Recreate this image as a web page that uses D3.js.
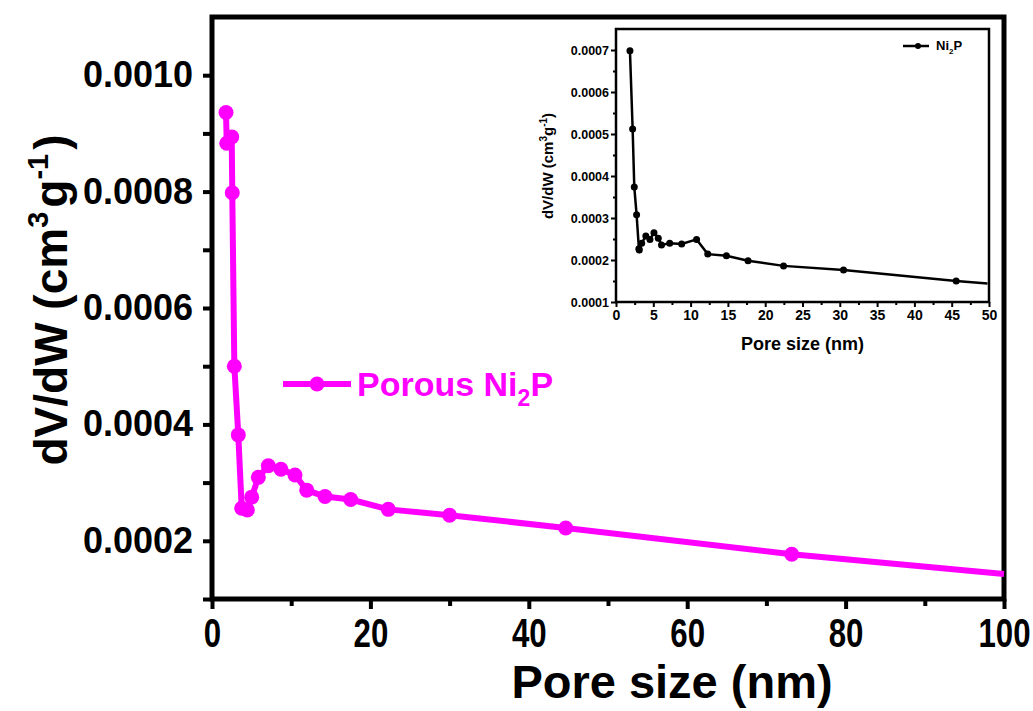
<!DOCTYPE html>
<html>
<head>
<meta charset="utf-8">
<script src="https://cdn.jsdelivr.net/npm/d3@7"></script>
<style>
  body { margin: 0; background: #fff; }
  svg text { font-family: "Liberation Sans", Arial, sans-serif; font-weight: bold; }
</style>
</head>
<body>
<svg width="1033" height="711"></svg>
<script>
// main curve: porous Ni2P
const mainPore = [1.77, 1.86, 2.49, 2.56, 2.82, 3.32, 3.75, 4.46, 5.01, 5.85, 7.11, 8.71, 10.48, 11.96, 14.27, 17.51, 22.26, 30.0, 44.66, 73.2, 100];
const mainDv = [0.000936, 0.000883, 0.000894, 0.000798, 0.0005, 0.000382, 0.000256, 0.000253, 0.000275, 0.000309, 0.000329, 0.000323, 0.000313, 0.000287, 0.000276, 0.000271, 0.000254, 0.000244, 0.000222, 0.000177, 0.000143];
// inset curve: Ni2P
const insetPore = [1.87, 2.23, 2.45, 2.76, 3.07, 3.12, 3.44, 4.0, 4.55, 5.09, 5.67, 6.1, 7.2, 8.8, 10.8, 12.3, 14.8, 17.7, 22.46, 30.5, 45.6, 49.8];
const insetDv = [0.000698, 0.000512, 0.000374, 0.000308, 0.000227, 0.000224, 0.00024, 0.000257, 0.000249, 0.000265, 0.000252, 0.000236, 0.00024, 0.000238, 0.000249, 0.000214, 0.00021, 0.000198, 0.000186, 0.000176, 0.00015, 0.000144];

const mainXTicks = [0, 20, 40, 60, 80, 100];
const mainYTicks = [0.0002, 0.0004, 0.0006, 0.0008, 0.0010];
const insetXTicks = [0, 5, 10, 15, 20, 25, 30, 35, 40, 45, 50];
const insetYTicks = [0.0001, 0.0002, 0.0003, 0.0004, 0.0005, 0.0006, 0.0007];

const svg = d3.select("svg");
const pink = "#ff00ff";

// ---------- main plot ----------
const m = {left: 212, right: 1004, top: 17, bottom: 599};
const x = d3.scaleLinear().domain([0, 100]).range([m.left, m.right]);
const y = d3.scaleLinear().domain([0.0001, 0.0011]).range([m.bottom, m.top]);

const main = svg.append("g");

// minor ticks
main.append("g")
    .attr("transform", `translate(0,${m.bottom})`)
    .call(d3.axisBottom(x).tickValues([10, 30, 50, 70, 90]).tickSize(7).tickFormat(""))
    .call(g => g.select(".domain").remove())
    .call(g => g.selectAll("line").attr("stroke-width", 4));
main.append("g")
    .attr("transform", `translate(${m.left},0)`)
    .call(d3.axisLeft(y).tickValues([0.0001, 0.0003, 0.0005, 0.0007, 0.0009]).tickSize(9).tickFormat(""))
    .call(g => g.select(".domain").remove())
    .call(g => g.selectAll("line").attr("stroke-width", 4));

const xAxis = main.append("g")
    .attr("transform", `translate(0,${m.bottom})`)
    .call(d3.axisBottom(x).tickValues(mainXTicks).tickSize(10).tickPadding(8).tickSizeOuter(0));
xAxis.selectAll("text")
    .attr("font-size", 40).attr("fill", "#000").attr("dy", "0.74em")
    .attr("transform", "scale(0.78,1)");

const yAxis = main.append("g")
    .attr("transform", `translate(${m.left},0)`)
    .call(d3.axisLeft(y).tickValues(mainYTicks).tickSize(9).tickPadding(10).tickSizeOuter(0)
      .tickFormat(d3.format(".4f")));
yAxis.selectAll("text").attr("font-size", 36).attr("fill", "#000");

[xAxis, yAxis].forEach(g => {
  g.select(".domain").remove();
  g.selectAll("line").attr("stroke-width", 4).attr("stroke", "#000");
});

// frame
main.append("rect")
    .attr("x", m.left).attr("y", m.top)
    .attr("width", m.right - m.left).attr("height", m.bottom - m.top)
    .attr("fill", "none").attr("stroke", "#000").attr("stroke-width", 5);

const mainPts = mainPore.map((p, i) => [p, mainDv[i]]);
const line = d3.line().x(d => x(d[0])).y(d => y(d[1]));

main.append("path")
    .datum(mainPts)
    .attr("d", line)
    .attr("fill", "none")
    .attr("stroke", pink)
    .attr("stroke-width", 6)
    .attr("stroke-linejoin", "round");

main.append("g").selectAll("circle")
    .data(mainPts.slice(0, -1))
    .join("circle")
    .attr("cx", d => x(d[0]))
    .attr("cy", d => y(d[1]))
    .attr("r", 7.5)
    .attr("fill", pink);

// legend
const lg = main.append("g").attr("transform", "translate(283,384)");
lg.append("line").attr("x1", 0).attr("x2", 68).attr("stroke", pink).attr("stroke-width", 6);
lg.append("circle").attr("cx", 34).attr("r", 7.5).attr("fill", pink);
const lt = lg.append("text").attr("x", 74).attr("y", 12).attr("font-size", 34).attr("fill", pink);
lt.append("tspan").text("Porous Ni");
lt.append("tspan").text("2").attr("font-size", 23).attr("dy", 10);
lt.append("tspan").text("P").attr("dy", -10);

// axis titles
svg.append("text")
    .attr("x", 672).attr("y", 698)
    .attr("text-anchor", "middle").attr("font-size", 47)
    .text("Pore size (nm)");

const yt = svg.append("text")
    .attr("transform", "translate(67,300) rotate(-90)")
    .attr("text-anchor", "middle").attr("font-size", 46);
yt.append("tspan").text("dV/dW (cm");
yt.append("tspan").text("3").attr("font-size", 29).attr("dy", -19);
yt.append("tspan").text("g").attr("dy", 19).attr("dx", 4);
yt.append("tspan").text("-1").attr("font-size", 29).attr("dy", -19);
yt.append("tspan").text(")").attr("dy", 19).attr("dx", 4);

// ---------- inset ----------
const n = {left: 616, right: 989, top: 29, bottom: 302};
const ix = d3.scaleLinear().domain([0, 50]).range([n.left, n.right]);
const iy = d3.scaleLinear().domain([0.0001, 0.00075]).range([n.bottom, n.top]);
const inset = svg.append("g");

inset.append("g")
    .attr("transform", `translate(0,${n.bottom})`)
    .call(d3.axisBottom(ix).tickValues(d3.range(2.5, 50, 5)).tickSize(3).tickFormat(""))
    .call(g => g.select(".domain").remove())
    .call(g => g.selectAll("line").attr("stroke-width", 2));
inset.append("g")
    .attr("transform", `translate(${n.left},0)`)
    .call(d3.axisLeft(iy).tickValues(d3.range(0.00015, 0.00075, 0.0001)).tickSize(3).tickFormat(""))
    .call(g => g.select(".domain").remove())
    .call(g => g.selectAll("line").attr("stroke-width", 2));

const ixAxis = inset.append("g")
    .attr("transform", `translate(0,${n.bottom})`)
    .call(d3.axisBottom(ix).tickValues(insetXTicks).tickSize(5).tickPadding(3).tickSizeOuter(0));
ixAxis.selectAll("text").attr("font-size", 14).attr("fill", "#000");
const iyAxis = inset.append("g")
    .attr("transform", `translate(${n.left},0)`)
    .call(d3.axisLeft(iy).tickValues(insetYTicks).tickSize(5).tickPadding(2).tickSizeOuter(0)
      .tickFormat(d3.format(".4f")));
iyAxis.selectAll("text").attr("font-size", 12.5).attr("fill", "#000");
[ixAxis, iyAxis].forEach(g => {
  g.select(".domain").remove();
  g.selectAll("line").attr("stroke-width", 2).attr("stroke", "#000");
});

inset.append("rect")
    .attr("x", n.left).attr("y", n.top)
    .attr("width", n.right - n.left).attr("height", n.bottom - n.top)
    .attr("fill", "none").attr("stroke", "#000").attr("stroke-width", 2.5);

const insetPts = insetPore.map((p, i) => [p, insetDv[i]]);
const iline = d3.line().x(d => ix(d[0])).y(d => iy(d[1]));
inset.append("path")
    .datum(insetPts)
    .attr("d", iline)
    .attr("fill", "none").attr("stroke", "#000").attr("stroke-width", 2.5);
inset.append("g").selectAll("circle")
    .data(insetPts.slice(0, -1))
    .join("circle")
    .attr("cx", d => ix(d[0])).attr("cy", d => iy(d[1]))
    .attr("r", 3.5).attr("fill", "#000");

const il = inset.append("g").attr("transform", "translate(903,46)");
il.append("line").attr("x1", 0).attr("x2", 26).attr("stroke", "#000").attr("stroke-width", 2.5);
il.append("circle").attr("cx", 15).attr("r", 3).attr("fill", "#000");
const ilt = il.append("text").attr("x", 33).attr("y", 4).attr("font-size", 13);
ilt.append("tspan").text("Ni");
ilt.append("tspan").text("2").attr("font-size", 8).attr("dy", 4);
ilt.append("tspan").text("P").attr("dy", -4);

inset.append("text")
    .attr("x", (n.left + n.right) / 2).attr("y", 350)
    .attr("text-anchor", "middle").attr("font-size", 18)
    .text("Pore size (nm)");

const iyt = inset.append("text")
    .attr("transform", "translate(553,166) rotate(-90)")
    .attr("text-anchor", "middle").attr("font-size", 15);
iyt.append("tspan").text("dV/dW (cm");
iyt.append("tspan").text("3").attr("font-size", 10).attr("dy", -6);
iyt.append("tspan").text("g").attr("dy", 6);
iyt.append("tspan").text("-1").attr("font-size", 10).attr("dy", -6);
iyt.append("tspan").text(")").attr("dy", 6);
</script>
</body>
</html>
